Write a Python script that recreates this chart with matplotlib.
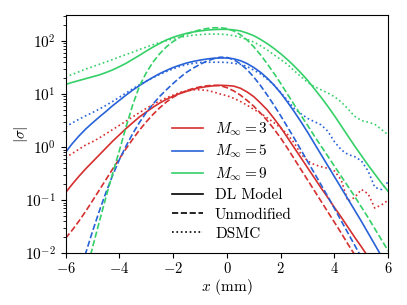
import numpy as np
import matplotlib
matplotlib.use("Agg")
import matplotlib.pyplot as plt
from matplotlib.lines import Line2D
from matplotlib.ticker import FuncFormatter

plt.rcParams['font.family'] = 'serif'
plt.rcParams['font.serif'] = ['cmr10', 'DejaVu Serif']
plt.rcParams['mathtext.fontset'] = 'cm'
plt.rcParams['axes.unicode_minus'] = False
plt.rcParams['axes.formatter.use_mathtext'] = True

# x positions (mm), 0.25 mm spacing
x = np.linspace(-6, 6, 49)

# log10(|sigma|)
dl_m3 = [-0.86, -0.70, -0.55, -0.41, -0.28, -0.15, -0.02, 0.11, 0.23, 0.35, 0.46, 0.57, 0.66,
         0.75, 0.83, 0.90, 0.96, 1.01, 1.05, 1.09, 1.12, 1.14, 1.155, 1.165, 1.16,
         1.15, 1.11, 1.04, 0.95, 0.83, 0.70, 0.54, 0.37, 0.18, -0.01, -0.20, -0.39,
         -0.58, -0.77, -0.95, -1.14, -1.32, -1.51, -1.70, -1.88, -2.07, -2.25, -2.44, -2.62]
dl_m5 = [-0.10, 0.065, 0.21, 0.34, 0.455, 0.565, 0.67, 0.78, 0.88, 0.98, 1.075, 1.16, 1.24,
         1.315, 1.385, 1.445, 1.50, 1.545, 1.585, 1.615, 1.64, 1.66, 1.675, 1.68, 1.68,
         1.665, 1.63, 1.575, 1.50, 1.41, 1.30, 1.17, 1.02, 0.85, 0.67, 0.48, 0.28,
         0.07, -0.14, -0.35, -0.56, -0.77, -0.98, -1.19, -1.40, -1.62, -1.84, -2.06, -2.28]
dl_m9 = [1.18, 1.22, 1.255, 1.29, 1.325, 1.36, 1.405, 1.455, 1.515, 1.58, 1.655, 1.73, 1.81,
         1.885, 1.955, 2.02, 2.07, 2.11, 2.145, 2.17, 2.19, 2.205, 2.215, 2.22, 2.22,
         2.21, 2.19, 2.15, 2.10, 2.03, 1.95, 1.86, 1.76, 1.65, 1.53, 1.40, 1.26,
         1.10, 0.94, 0.77, 0.59, 0.40, 0.21, 0.02, -0.16, -0.34, -0.51, -0.68, -0.84]

unmod_m3 = [-1.72, -1.565, -1.395, -1.21, -1.015, -0.815, -0.615, -0.415, -0.22, -0.03, 0.15, 0.32, 0.475,
            0.615, 0.74, 0.85, 0.94, 1.01, 1.065, 1.105, 1.135, 1.155, 1.165, 1.16, 1.12,
            1.06, 0.98, 0.88, 0.77, 0.64, 0.50, 0.34, 0.17, -0.02, -0.22, -0.42, -0.62,
            -0.82, -1.02, -1.22, -1.42, -1.62, -1.83, -2.03, -2.23, -2.43, -2.63, -2.83, -3.03]
unmod_m5 = [-3.32, -2.87, -2.43, -2.0, -1.595, -1.215, -0.86, -0.535, -0.24, 0.02, 0.255, 0.465, 0.65,
            0.81, 0.955, 1.08, 1.20, 1.31, 1.41, 1.49, 1.56, 1.62, 1.665, 1.695, 1.69,
            1.65, 1.57, 1.46, 1.32, 1.16, 0.98, 0.79, 0.59, 0.38, 0.17, -0.05, -0.27,
            -0.49, -0.71, -0.93, -1.16, -1.39, -1.62, -1.85, -2.08, -2.31, -2.54, -2.77, -3.0]
unmod_m9 = [-3.86, -3.37, -2.88, -2.39, -1.90, -1.42, -0.95, -0.50, -0.07, 0.38, 0.80, 1.15, 1.40,
            1.60, 1.76, 1.89, 1.99, 2.07, 2.13, 2.175, 2.21, 2.235, 2.25, 2.25, 2.235,
            2.19, 2.12, 2.02, 1.89, 1.74, 1.57, 1.39, 1.20, 1.00, 0.80, 0.60, 0.41,
            0.21, 0.02, -0.17, -0.36, -0.55, -0.74, -0.93, -1.13, -1.33, -1.54, -1.75, -1.96]

dsmc_m3 = [-0.20, -0.12, -0.04, 0.04, 0.10, 0.17, 0.25, 0.33, 0.41, 0.49, 0.57, 0.65, 0.73,
           0.80, 0.87, 0.93, 0.98, 1.03, 1.06, 1.08, 1.08, 1.07, 1.04, 1.00, 0.97,
           0.92, 0.86, 0.79, 0.71, 0.64, 0.55, 0.46, 0.36, 0.24, 0.08, -0.13, -0.26,
           -0.33, -0.37, -0.40, -0.45, -0.62, -1.02, -0.95, -0.80, -0.88, -1.15, -1.09, -1.00]
dsmc_m5 = [0.38, 0.455, 0.525, 0.59, 0.65, 0.715, 0.785, 0.86, 0.94, 1.02, 1.10, 1.175, 1.245,
           1.31, 1.37, 1.425, 1.475, 1.52, 1.555, 1.58, 1.595, 1.60, 1.60, 1.60, 1.595,
           1.58, 1.56, 1.52, 1.45, 1.38, 1.28, 1.17, 1.03, 0.88, 0.73, 0.63, 0.54,
           0.48, 0.42, 0.30, 0.10, -0.05, -0.14, -0.18, -0.26, -0.45, -0.76, -0.80, -0.65]
dsmc_m9 = [1.32, 1.37, 1.42, 1.47, 1.515, 1.56, 1.605, 1.65, 1.70, 1.745, 1.79, 1.84, 1.885,
           1.93, 1.97, 2.005, 2.04, 2.07, 2.09, 2.11, 2.12, 2.13, 2.13, 2.13, 2.12,
           2.10, 2.07, 2.03, 1.98, 1.91, 1.83, 1.74, 1.65, 1.56, 1.44, 1.33, 1.22,
           1.14, 1.08, 1.02, 0.95, 0.85, 0.72, 0.58, 0.50, 0.47, 0.43, 0.33, 0.23]

mach_labels = [r'$M_\infty = 3$', r'$M_\infty = 5$', r'$M_\infty = 9$']
colors = ['#d62f2f', '#2862d8', '#35d068']

fig = plt.figure(figsize=(4.07, 3.05), dpi=100)
ax = fig.add_axes([0.161, 0.170, 0.793, 0.781])

lw = 1.2
for c, dl, un, ds in zip(colors, [dl_m3, dl_m5, dl_m9], [unmod_m3, unmod_m5, unmod_m9],
                         [dsmc_m3, dsmc_m5, dsmc_m9]):
    ax.plot(x, 10 ** np.array(dl), color=c, lw=lw, ls='-')
    ax.plot(x, 10 ** np.array(un), color=c, lw=lw, ls='--')
    ax.plot(x, 10 ** np.array(ds), color=c, lw=lw, ls=':')

ax.set_yscale('log')
ax.set_xlim(-6, 6)
ax.set_ylim(1e-2, 310)
ax.set_xticks([-6, -4, -2, 0, 2, 4, 6])
ax.xaxis.set_major_formatter(FuncFormatter(lambda v, p: f'${v:g}$'))
ax.tick_params(axis='y', labelsize=11)
ax.tick_params(axis='x', labelsize=10.5, pad=2.5)
ax.set_xlabel(r'$x$ (mm)', fontsize=11)
ax.set_ylabel(r'$|\sigma|$', fontsize=11)
ax.xaxis.set_label_coords(0.5, -0.102)
ax.yaxis.set_label_coords(-0.11, 0.5)

handles = [Line2D([], [], color=c, lw=lw) for c in colors]
handles += [Line2D([], [], color='k', lw=lw, ls=s) for s in ['-', '--', ':']]
labels = mach_labels + ['DL Model', 'Unmodified', 'DSMC']
ax.legend(handles, labels, frameon=False, fontsize=11, loc='lower left',
          bbox_to_anchor=(0.288, -0.005), handlelength=2.0, labelspacing=0.35)

fig.savefig('out.png', dpi=100)
